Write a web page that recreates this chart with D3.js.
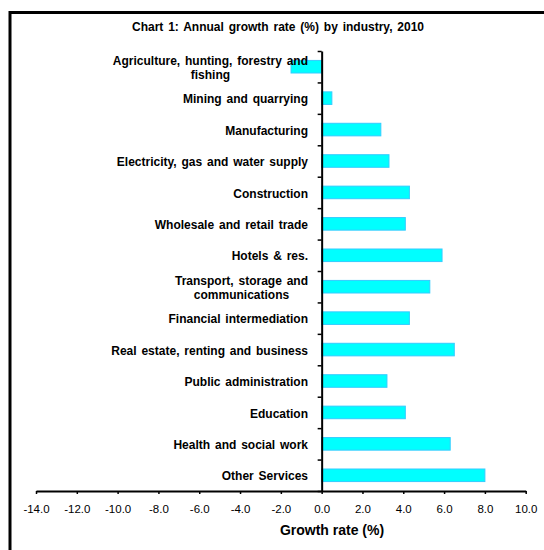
<!DOCTYPE html>
<html>
<head>
<meta charset="utf-8">
<script src="https://cdn.jsdelivr.net/npm/d3@7"></script>
<style>
  html, body { margin: 0; padding: 0; background: #fff; }
  svg { display: block; font-family: "Liberation Sans", Arial, sans-serif; }
</style>
</head>
<body>
<svg id="chart" width="544" height="550"></svg>
<script>
// Industry categories, top to bottom (two-line labels split into lines)
const industries = [
  ["Agriculture, hunting, forestry and", "fishing"],
  ["Mining and quarrying"],
  ["Manufacturing"],
  ["Electricity, gas and water supply"],
  ["Construction"],
  ["Wholesale and retail trade"],
  ["Hotels & res."],
  ["Transport, storage and", "communications"],
  ["Financial intermediation"],
  ["Real estate, renting and business"],
  ["Public administration"],
  ["Education"],
  ["Health and social work"],
  ["Other Services"]
];

// Annual growth rate (%), 2010
const growthRates = [-1.5, 0.5, 2.9, 3.3, 4.3, 4.1, 5.9, 5.3, 4.3, 6.5, 3.2, 4.1, 6.3, 8.0];

// X-axis tick values
const xTicks = [-14, -12, -10, -8, -6, -4, -2, 0, 2, 4, 6, 8, 10];

const titleText = "Chart 1: Annual growth rate (%) by industry, 2010";
const xAxisTitle = "Growth rate (%)";

const svg = d3.select("#chart");

// Outer frame
svg.append("rect")
  .attr("x", 10).attr("y", 12.5)
  .attr("width", 700).attr("height", 700)
  .attr("fill", "none").attr("stroke", "#000").attr("stroke-width", 3);

const plot = { left: 36, right: 525.7, top: 51, bottom: 491 };

const x = d3.scaleLinear().domain([-14, 10]).range([plot.left, plot.right]);
const y = d3.scaleBand()
  .domain(d3.range(industries.length))
  .range([plot.top, plot.bottom])
  .paddingInner(0.6)
  .paddingOuter(0.3);

// Bars
svg.append("g").selectAll("rect")
  .data(growthRates)
  .join("rect")
  .attr("x", d => x(Math.min(0, d)))
  .attr("y", (d, i) => y(i))
  .attr("width", d => Math.abs(x(d) - x(0)))
  .attr("height", y.bandwidth())
  .attr("fill", "#00FFFF")
  .attr("stroke", "#33CCFF")
  .attr("stroke-width", 1);

// Category axis (ticks at band boundaries)
const yBound = d3.scaleLinear().domain([0, industries.length]).range([plot.top, plot.bottom]);
const yAxis = svg.append("g")
  .attr("transform", `translate(${x(0)},0)`)
  .call(d3.axisLeft(yBound).tickValues(d3.range(0, industries.length + 1)).tickFormat("").tickSize(4).tickSizeOuter(0));
yAxis.select(".domain").attr("stroke", "#000").attr("stroke-width", 2);
yAxis.selectAll(".tick line").attr("stroke", "#000").attr("stroke-width", 1.5);

// Value axis
const xAxis = svg.append("g")
  .attr("transform", `translate(0,${plot.bottom})`)
  .call(d3.axisBottom(x).tickValues(xTicks).tickFormat(d => d.toFixed(1)).tickSize(3).tickSizeOuter(0).tickPadding(11));
xAxis.select(".domain").attr("stroke", "#000").attr("stroke-width", 2);
xAxis.selectAll(".tick line").attr("stroke", "#000").attr("stroke-width", 1.5);
xAxis.selectAll(".tick text")
  .attr("font-family", "'Liberation Sans', Arial, sans-serif")
  .attr("font-size", 11.5)
  .attr("fill", "#000");

// Category labels: right-aligned block, lines centered within it
const labelRight = 308;
const lineH = 14;
const labelFont = 12;
const measure = svg.append("text")
  .attr("font-size", labelFont).attr("font-weight", "bold")
  .attr("word-spacing", 1.5).attr("visibility", "hidden");
industries.forEach((lines, i) => {
  const widths = lines.map(t => { measure.text(t); return measure.node().getComputedTextLength(); });
  const maxW = d3.max(widths);
  const cx = labelRight - maxW / 2;
  const cy = y(i) + y.bandwidth() / 2 + 1;
  const t = svg.append("text")
    .attr("font-size", labelFont)
    .attr("font-weight", "bold")
    .attr("word-spacing", 1.5)
    .attr("fill", "#000")
    .attr("text-anchor", "middle");
  lines.forEach((line, k) => {
    t.append("tspan")
      .attr("x", cx)
      .attr("y", cy + (k - (lines.length - 1) / 2) * lineH)
      .attr("dy", "0.35em")
      .text(line);
  });
});
measure.remove();

// Chart title
svg.append("text")
  .attr("x", 278).attr("y", 31)
  .attr("text-anchor", "middle")
  .attr("font-size", 12)
  .attr("font-weight", "bold")
  .attr("word-spacing", 1.5)
  .text(titleText);

// Value axis title
svg.append("text")
  .attr("x", 332).attr("y", 535)
  .attr("text-anchor", "middle")
  .attr("font-size", 14)
  .attr("font-weight", "bold")
  .text(xAxisTitle);
</script>
</body>
</html>
